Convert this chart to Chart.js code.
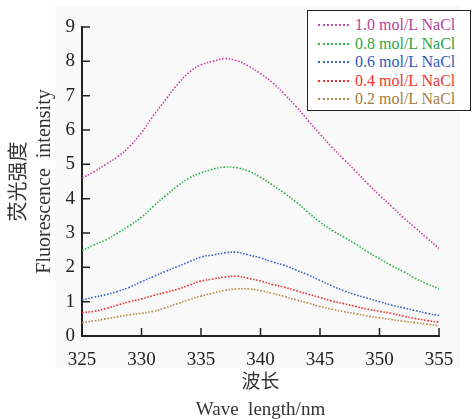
<!DOCTYPE html>
<html>
<head>
<meta charset="utf-8">
<script src="https://cdn.jsdelivr.net/npm/chart.js@4/dist/chart.umd.min.js"></script>
<style>
  html, body { margin: 0; padding: 0; background: #fff; }
  #wrap { position: relative; width: 472px; height: 419px; }
  #legend {
    position: absolute; left: 307px; top: 10px; width: 162px; height: 99px;
    border: 1.5px solid #222; background: #fff;
    font-family: "Liberation Serif", "Times New Roman", serif; font-size: 16px;
  }
  .row { position: absolute; left: 0; height: 18px; line-height: 18px; white-space: nowrap; }
  .row .sample { position: absolute; left: 10px; top: 8px; width: 31px; border-top: 2px dotted; }
  .row .lbl { position: absolute; left: 47px; top: 0; }
</style>
</head>
<body>
<div id="wrap">
  <canvas id="chart" width="472" height="419"></canvas>
  <div id="legend"></div>
</div>
<script>
// wavelength (nm)
const wavelengths = [325, 326, 327, 328, 329, 330, 331, 332, 333, 334, 335, 336, 337, 338, 339, 340,
                     341, 342, 343, 344, 345, 346, 347, 348, 349, 350, 351, 352, 353, 354, 355];

// fluorescence intensity per NaCl concentration
const nacl10 = [4.60, 4.78, 5.00, 5.22, 5.52, 5.92, 6.42, 6.87, 7.32, 7.68, 7.90, 8.00, 8.08, 8.02, 7.86, 7.64,
                7.38, 7.05, 6.68, 6.28, 5.88, 5.50, 5.15, 4.80, 4.44, 4.10, 3.78, 3.45, 3.15, 2.85, 2.55];
const nacl08 = [2.48, 2.65, 2.80, 3.00, 3.22, 3.46, 3.78, 4.08, 4.36, 4.60, 4.75, 4.86, 4.92, 4.90, 4.80, 4.62,
                4.40, 4.16, 3.90, 3.60, 3.32, 3.08, 2.88, 2.68, 2.45, 2.25, 2.05, 1.88, 1.68, 1.52, 1.38];
const nacl06 = [1.05, 1.13, 1.20, 1.30, 1.42, 1.58, 1.73, 1.88, 2.02, 2.16, 2.30, 2.36, 2.42, 2.44, 2.36, 2.28,
                2.16, 2.06, 1.92, 1.78, 1.62, 1.46, 1.32, 1.20, 1.10, 1.00, 0.90, 0.82, 0.74, 0.66, 0.60];
const nacl04 = [0.68, 0.72, 0.80, 0.90, 1.00, 1.08, 1.18, 1.27, 1.36, 1.48, 1.60, 1.66, 1.72, 1.74, 1.68, 1.60,
                1.50, 1.42, 1.32, 1.22, 1.12, 1.02, 0.94, 0.86, 0.78, 0.72, 0.66, 0.58, 0.51, 0.45, 0.40];
const nacl02 = [0.39, 0.44, 0.50, 0.56, 0.62, 0.66, 0.72, 0.82, 0.94, 1.06, 1.16, 1.25, 1.33, 1.37, 1.37, 1.32,
                1.24, 1.15, 1.05, 0.96, 0.86, 0.78, 0.71, 0.65, 0.58, 0.53, 0.48, 0.43, 0.39, 0.34, 0.30];

const seriesLabels = ['1.0 mol/L NaCl', '0.8 mol/L NaCl', '0.6 mol/L NaCl', '0.4 mol/L NaCl', '0.2 mol/L NaCl'];
const seriesValues = [nacl10, nacl08, nacl06, nacl04, nacl02];
const lineColors = ['#cc4aa6', '#2fb54f', '#3a64c6', '#f03030', '#b58a42'];
const textColors = ['#b4449a', '#2aa548', '#2f5cb8', '#f0352c', '#a57c3e'];

const serif = '"Liberation Serif", "Noto Sans CJK SC", serif';

// light grey figure panel behind the plot
const panelBg = {
    id: 'panelBg',
    beforeDraw(chart) {
        const ctx = chart.ctx;
        ctx.save();
        ctx.fillStyle = '#f9f9f9';
        ctx.fillRect(55, 6, 405, 362);
        ctx.restore();
    }
};

// tick marks pointing into the plot
const inwardTicks = {
    id: 'inwardTicks',
    afterDraw(chart) {
        const {ctx, chartArea, scales} = chart;
        ctx.save();
        ctx.strokeStyle = '#222';
        ctx.lineWidth = 1.5;
        ctx.beginPath();
        scales.x.ticks.forEach(t => {
            const px = scales.x.getPixelForValue(t.value);
            ctx.moveTo(px, chartArea.bottom);
            ctx.lineTo(px, chartArea.bottom - 8);
        });
        scales.y.ticks.forEach(t => {
            const py = scales.y.getPixelForValue(t.value);
            ctx.moveTo(chartArea.left, py);
            ctx.lineTo(chartArea.left + 8, py);
        });
        ctx.stroke();
        ctx.restore();
    }
};

new Chart(document.getElementById('chart').getContext('2d'), {
    type: 'line',
    data: {
        datasets: seriesValues.map((vals, idx) => ({
            label: seriesLabels[idx],
            data: vals.map((v, i) => ({x: wavelengths[i], y: v})),
            borderColor: lineColors[idx],
            backgroundColor: lineColors[idx],
            borderWidth: 1.6,
            borderDash: [1.6, 1.6],
            pointRadius: 0,
            tension: 0.4,
            fill: false
        }))
    },
    options: {
        responsive: false,
        animation: false,
        layout: { padding: { top: 27, right: 33, left: 0, bottom: 0 } },
        plugins: {
            legend: { display: false },
            tooltip: { enabled: false }
        },
        scales: {
            x: {
                type: 'linear',
                min: 325,
                max: 355,
                afterFit: s => { s.height = 83; },
                grid: { display: true, drawOnChartArea: false, drawTicks: false },
                border: { display: true, color: '#222', width: 2 },
                ticks: { stepSize: 5, padding: 13, color: '#222', font: { family: serif, size: 19 } },
                title: {
                    display: true,
                    text: ['波长', 'Wave  length/nm'],
                    color: '#333',
                    font: { family: serif, size: 19, lineHeight: 1.4 },
                    padding: { top: 0, bottom: -4 }
                }
            },
            y: {
                min: 0,
                max: 9,
                afterFit: s => { s.width = 82; },
                grid: { display: true, drawOnChartArea: false, drawTicks: false },
                border: { display: true, color: '#222', width: 2 },
                ticks: { stepSize: 1, padding: 7, color: '#222', font: { family: serif, size: 19 } },
                title: {
                    display: true,
                    text: ['荧光强度', 'Fluorescence  intensity'],
                    color: '#333',
                    font: { family: serif, size: 20, lineHeight: 1.25 },
                    padding: { top: 7, bottom: 0 }
                }
            }
        }
    },
    plugins: [panelBg, inwardTicks]
});

// legend box in the top-right corner
const legendEl = document.getElementById('legend');
seriesLabels.forEach((label, idx) => {
    const row = document.createElement('div');
    row.className = 'row';
    row.style.top = (5 + idx * 18.5) + 'px';
    row.innerHTML = '<span class="sample" style="border-color:' + lineColors[idx] + '"></span>' +
                    '<span class="lbl" style="color:' + textColors[idx] + '">' + label + '</span>';
    legendEl.appendChild(row);
});
</script>
</body>
</html>
